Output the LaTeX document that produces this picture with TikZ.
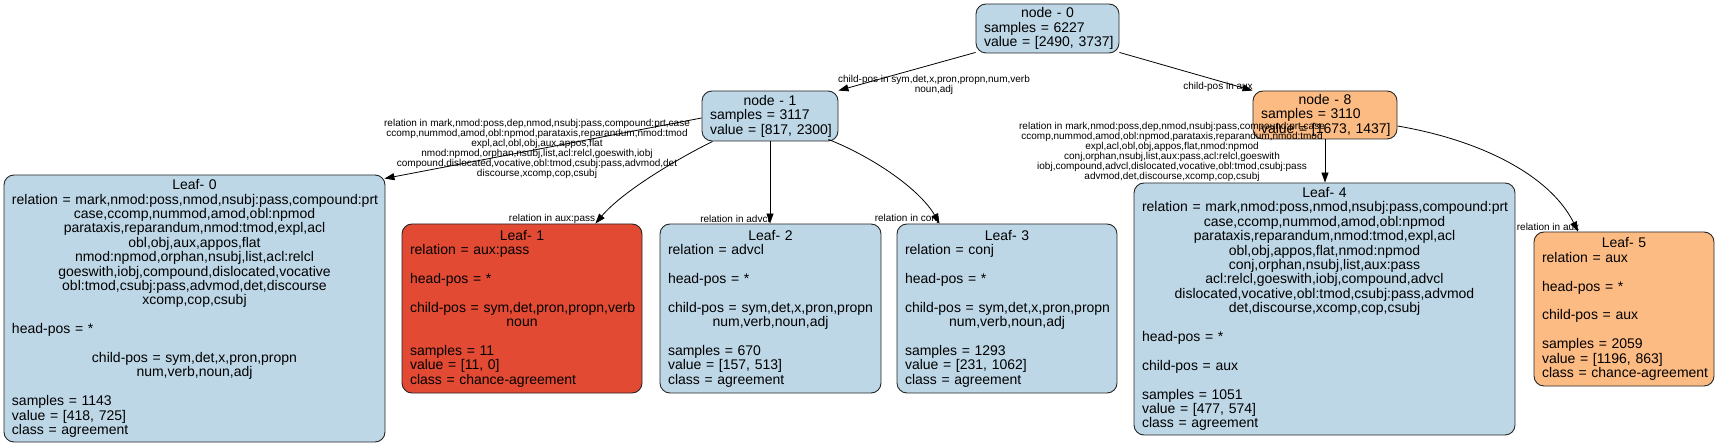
\documentclass[tikz,border=0pt]{standalone}
\usepackage{fontspec}
\setmainfont{Liberation Sans}
\usetikzlibrary{arrows.meta,calc}
\definecolor{lblue}{HTML}{BDD7E7}
\definecolor{lred}{HTML}{E34A33}
\definecolor{lorange}{HTML}{FDBB84}
\newcommand{\lineC}[1]{\makebox[\linewidth][c]{#1}}
\newcommand{\lineL}[1]{\makebox[\linewidth][l]{#1}}
\newcommand{\blankline}{\mbox{}}
\begin{document}
\begin{tikzpicture}[x=1pt,y=-1pt,
  box/.style={draw=black!85, line width=0.9pt, rounded corners=10pt,
    inner xsep=8pt, inner ysep=0pt, align=left,
    font=\fontsize{14}{14.4}\selectfont},
  blue/.style={box, fill=lblue},
  red/.style={box, fill=lred},
  orange/.style={box, fill=lorange},
  edge/.style={draw=black, line width=0.8pt, -{Triangle[length=10pt,width=7pt]}},
  lbl/.style={font=\fontsize{10}{10}\selectfont, align=center, inner sep=0pt}]
\useasboundingbox (0,0) rectangle (1719,446);

% internal nodes
\node[blue, minimum width=143pt, minimum height=49pt, text width=127pt] (n0) at (1047.5,28.5)
 {\lineC{node - 0}\\\lineL{samples = 6227}\\\lineL{value = [2490, 3737]}};
\node[blue, minimum width=136pt, minimum height=50pt, text width=120pt] (n1) at (770,116)
 {\lineC{node - 1}\\\lineL{samples = 3117}\\\lineL{value = [817, 2300]}};
\node[orange, minimum width=144pt, minimum height=48pt, text width=128pt] (n8) at (1325,115)
 {\lineC{node - 8}\\\lineL{samples = 3110}\\\lineL{value = [1673, 1437]}};

% leaves
\node[blue, minimum width=381pt, minimum height=267pt, text width=365pt] (L0) at (194.5,308.5)
 {\lineC{Leaf- 0}\\
  \lineL{relation = mark,nmod:poss,nmod,nsubj:pass,compound:prt}\\
  \lineC{case,ccomp,nummod,amod,obl:npmod}\\
  \lineC{parataxis,reparandum,nmod:tmod,expl,acl}\\
  \lineC{obl,obj,aux,appos,flat}\\
  \lineC{nmod:npmod,orphan,nsubj,list,acl:relcl}\\
  \lineC{goeswith,iobj,compound,dislocated,vocative}\\
  \lineC{obl:tmod,csubj:pass,advmod,det,discourse}\\
  \lineC{xcomp,cop,csubj}\\
  \blankline\\
  \lineL{head-pos = *}\\
  \blankline\\
  \lineC{child-pos = sym,det,x,pron,propn}\\
  \lineC{num,verb,noun,adj}\\
  \blankline\\
  \lineL{samples = 1143}\\
  \lineL{value = [418, 725]}\\
  \lineL{class = agreement}};

\node[red, minimum width=240pt, minimum height=169pt, text width=224pt] (L1) at (522,308.5)
 {\lineC{Leaf- 1}\\
  \lineL{relation = aux:pass}\\
  \blankline\\
  \lineL{head-pos = *}\\
  \blankline\\
  \lineL{child-pos = sym,det,pron,propn,verb}\\
  \lineC{noun}\\
  \blankline\\
  \lineL{samples = 11}\\
  \lineL{value = [11, 0]}\\
  \lineL{class = chance-agreement}};

\node[blue, minimum width=221pt, minimum height=169pt, text width=205pt] (L2) at (770.5,308.5)
 {\lineC{Leaf- 2}\\
  \lineL{relation = advcl}\\
  \blankline\\
  \lineL{head-pos = *}\\
  \blankline\\
  \lineL{child-pos = sym,det,x,pron,propn}\\
  \lineC{num,verb,noun,adj}\\
  \blankline\\
  \lineL{samples = 670}\\
  \lineL{value = [157, 513]}\\
  \lineL{class = agreement}};

\node[blue, minimum width=220pt, minimum height=169pt, text width=204pt] (L3) at (1007,308.5)
 {\lineC{Leaf- 3}\\
  \lineL{relation = conj}\\
  \blankline\\
  \lineL{head-pos = *}\\
  \blankline\\
  \lineL{child-pos = sym,det,x,pron,propn}\\
  \lineC{num,verb,noun,adj}\\
  \blankline\\
  \lineL{samples = 1293}\\
  \lineL{value = [231, 1062]}\\
  \lineL{class = agreement}};

\node[blue, minimum width=381pt, minimum height=252pt, text width=365pt] (L4) at (1324.5,309)
 {\lineC{Leaf- 4}\\
  \lineL{relation = mark,nmod:poss,nmod,nsubj:pass,compound:prt}\\
  \lineC{case,ccomp,nummod,amod,obl:npmod}\\
  \lineC{parataxis,reparandum,nmod:tmod,expl,acl}\\
  \lineC{obl,obj,appos,flat,nmod:npmod}\\
  \lineC{conj,orphan,nsubj,list,aux:pass}\\
  \lineC{acl:relcl,goeswith,iobj,compound,advcl}\\
  \lineC{dislocated,vocative,obl:tmod,csubj:pass,advmod}\\
  \lineC{det,discourse,xcomp,cop,csubj}\\
  \blankline\\
  \lineL{head-pos = *}\\
  \blankline\\
  \lineL{child-pos = aux}\\
  \blankline\\
  \lineL{samples = 1051}\\
  \lineL{value = [477, 574]}\\
  \lineL{class = agreement}};

\node[orange, minimum width=180pt, minimum height=154pt, text width=164pt] (L5) at (1624,309)
 {\lineC{Leaf- 5}\\
  \lineL{relation = aux}\\
  \blankline\\
  \lineL{head-pos = *}\\
  \blankline\\
  \lineL{child-pos = aux}\\
  \blankline\\
  \lineL{samples = 2059}\\
  \lineL{value = [1196, 863]}\\
  \lineL{class = chance-agreement}};

% edges
\draw[edge] ($(n0.south west)+(0,-1)$) -- (n1.north east);
\draw[edge] ($(n0.south east)+(0,-1)$) -- (n8.north west);
\draw[edge] ($(n1.west)+(0,2)$) -- ($(L0.north east)+(-1,4)$);
\draw[edge] ($(n1.south west)+(11,0)$) .. controls (675,160) and (622,192) .. ($(L1.north east)+(-47,0)$);
\draw[edge] (n1.south) -- (n1.south |- L2.north);
\draw[edge] ($(n1.south east)+(-10,-2)$) .. controls (875,158) and (920,190) .. ($(L3.north west)+(43,0)$);
\draw[edge] (n8.south) -- (n8.south |- L4.north);
\draw[edge] ($(n8.east)+(0,11)$) .. controls (1480,140) and (1550,175) .. ($(L5.north)+(-46,0)$);

% edge labels
\node[lbl] (e01) at (934,85) {child-pos in sym,det,x,pron,propn,num,verb\\noun,adj};
\node[lbl] (e08) at (1218,87) {child-pos in aux};
\node[lbl] (e1L0) at (537,149) {relation in mark,nmod:poss,dep,nmod,nsubj:pass,compound:prt,case\\
ccomp,nummod,amod,obl:npmod,parataxis,reparandum,nmod:tmod\\
expl,acl,obl,obj,aux,appos,flat\\
nmod:npmod,orphan,nsubj,list,acl:relcl,goeswith,iobj\\
compound,dislocated,vocative,obl:tmod,csubj:pass,advmod,det\\
discourse,xcomp,cop,csubj};
\node[lbl] (e1L1) at (552,219) {relation in aux:pass};
\node[lbl] (e1L2) at (735,219) {relation in advcl};
\node[lbl] (e1L3) at (907,219) {relation in conj};
\node[lbl] (e8L4) at (1172,152) {relation in mark,nmod:poss,dep,nmod,nsubj:pass,compound:prt,case\\
ccomp,nummod,amod,obl:npmod,parataxis,reparandum,nmod:tmod\\
expl,acl,obl,obj,appos,flat,nmod:npmod\\
conj,orphan,nsubj,list,aux:pass,acl:relcl,goeswith\\
iobj,compound,advcl,dislocated,vocative,obl:tmod,csubj:pass\\
advmod,det,discourse,xcomp,cop,csubj};
\node[lbl] (e8L5) at (1548,227) {relation in aux};
\end{tikzpicture}
\end{document}
